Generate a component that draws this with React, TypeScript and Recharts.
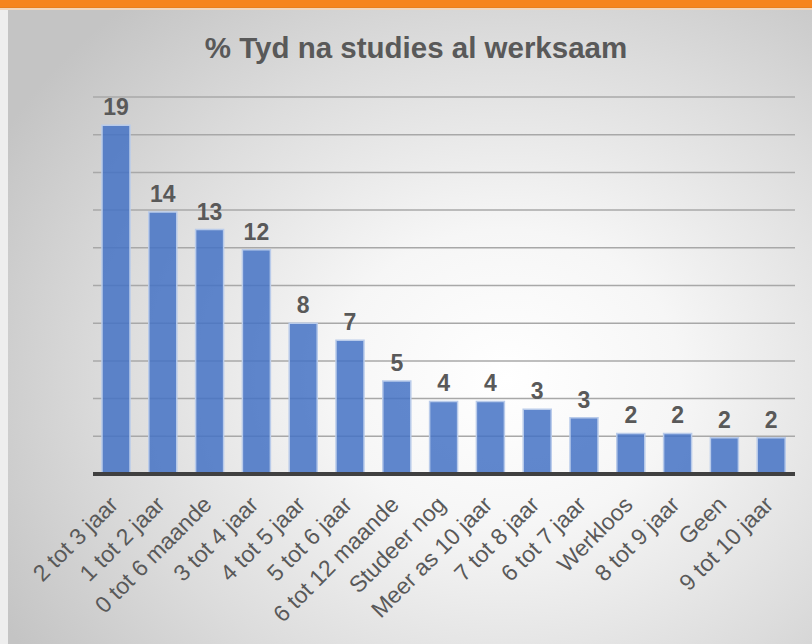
import React from "react";
import { BarChart, Bar, XAxis, YAxis, CartesianGrid, LabelList } from "recharts";

const categories = [
  "2 tot 3 jaar",
  "1 tot 2 jaar",
  "0 tot 6 maande",
  "3 tot 4 jaar",
  "4 tot 5 jaar",
  "5 tot 6 jaar",
  "6 tot 12 maande",
  "Studeer nog",
  "Meer as 10 jaar",
  "7 tot 8 jaar",
  "6 tot 7 jaar",
  "Werkloos",
  "8 tot 9 jaar",
  "Geen",
  "9 tot 10 jaar",
];

const values = [18.5, 13.9, 12.97, 11.9, 8.0, 7.1, 4.94, 3.85, 3.85, 3.43, 2.99, 2.15, 2.15, 1.92, 1.92];

const yTicks = [0, 2, 4, 6, 8, 10, 12, 14, 16, 18, 20];

const title = "% Tyd na studies al werksaam";

const data = categories.map((name, i) => ({ name, value: values[i] }));

const FONT = "'Liberation Sans', Arial, Helvetica, sans-serif";
const TEXT = "#595959";

const AxisTick = (props: any) => {
  const { x, y, payload } = props;
  const ax = x + 3;
  const ay = y + 32;
  return (
    <text
      x={ax}
      y={ay}
      transform={`rotate(-45, ${ax}, ${ay})`}
      textAnchor="end"
      fill={TEXT}
      fontSize={23}
      fontFamily={FONT}
    >
      {payload.value}
    </text>
  );
};

export default function App() {
  return (
    <div
      style={{
        position: "absolute",
        left: 0,
        top: 0,
        width: 812,
        height: 644,
        background: "#eeeeee",
        overflow: "hidden",
      }}
    >
      <div style={{ position: "absolute", left: 0, top: 0, width: 812, height: 7, background: "#f6851f" }} />
      <div style={{ position: "absolute", left: 0, top: 7, width: 812, height: 1, background: "#e9801f" }} />
      <div style={{ position: "absolute", left: 0, top: 8, width: 812, height: 2, background: "#f1d6bd" }} />
      <div
        style={{
          position: "absolute",
          left: 8,
          top: 10,
          width: 804,
          height: 634,
          background:
            "radial-gradient(ellipse 72% 78% at 62% 58%, #ffffff 0%, #f6f6f6 30%, #dcdcdc 68%, #c4c4c4 100%)",
        }}
      />
      <div
        style={{
          position: "absolute",
          left: 0,
          top: 33,
          width: 832,
          textAlign: "center",
          fontFamily: FONT,
          fontWeight: "bold",
          fontSize: 29.5,
          lineHeight: "29.5px",
          color: TEXT,
        }}
      >
        {title}
      </div>
      <div style={{ position: "absolute", left: 0, top: 0 }}>
        <BarChart
          width={812}
          height={644}
          data={data}
          margin={{ top: 97, right: 17, bottom: 30, left: 93 }}
        >
          <CartesianGrid horizontal={true} vertical={false} stroke="#a8a8a8" strokeWidth={1.5} />
          <YAxis hide domain={[0, 20]} ticks={yTicks} width={0} />
          <XAxis
            dataKey="name"
            height={140}
            interval={0}
            tickLine={false}
            tickSize={0}
            tickMargin={0}
            axisLine={{ stroke: "#404040", strokeWidth: 4 }}
            tick={<AxisTick />}
          />
          <Bar
            dataKey="value"
            barSize={28}
            fill="#4472c4"
            fillOpacity={0.85}
            stroke="#b9cbea"
            strokeWidth={1.5}
            isAnimationActive={false}
          >
            <LabelList
              dataKey="value"
              position="top"
              offset={10}
              formatter={(v: any) => String(Math.round(Number(v)))}
              fill={TEXT}
              fontSize={23}
              fontWeight="bold"
              fontFamily={FONT}
            />
          </Bar>
        </BarChart>
      </div>
    </div>
  );
}
